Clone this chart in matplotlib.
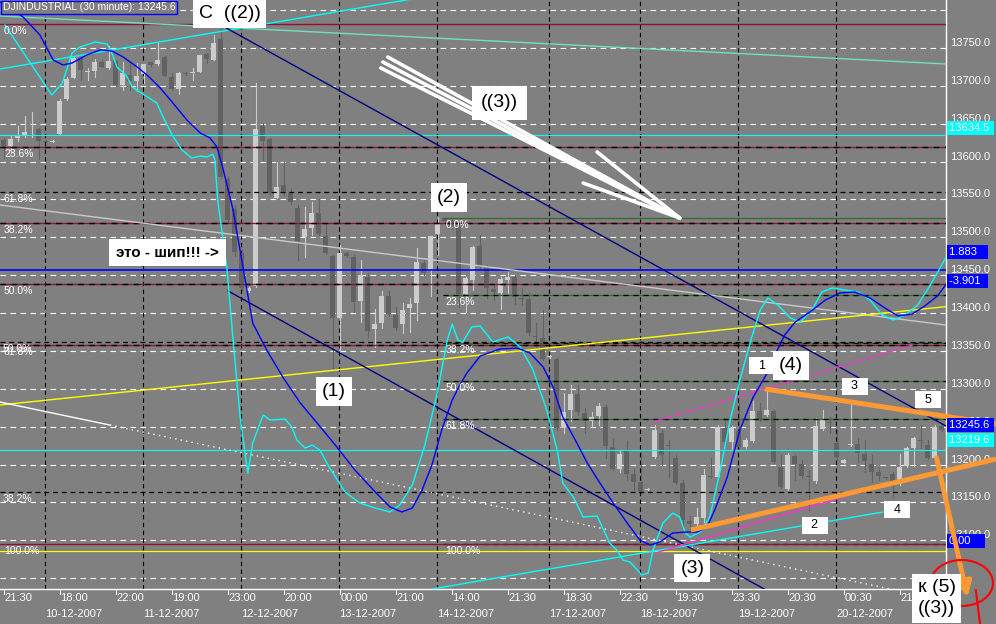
import matplotlib
matplotlib.use("Agg")
import matplotlib.pyplot as plt
from matplotlib.patches import Ellipse

plt.rcParams['font.family'] = ['Liberation Sans', 'DejaVu Sans']

# DJINDUSTRIAL 30 minute bars, 10-12-2007 .. 20-12-2007
opens = [13628.5, 13620.6, 13631.2, 13635.1, 13642.4, 13643.0, 13627.2, 13626.5, 13636.4, 13682.7,
         13710.4, 13736.8, 13718.3, 13719.6, 13731.5, 13723.6, 13732.8, 13701.1, 13714.3, 13706.4,
         13715.7, 13731.5, 13728.9, 13738.1, 13711.7, 13695.9, 13717.0, 13717.0, 13718.3, 13742.1,
         13734.2, 13761.9, 13577.0, 13537.4, 13479.3, 13429.1, 13435.7, 13647.0, 13629.8, 13551.9,
         13569.1, 13558.5, 13538.7, 13500.4, 13512.3, 13532.1, 13501.7, 13475.3, 13393.5, 13479.3,
         13474.0, 13415.9, 13447.6, 13378.9, 13386.9, 13422.5, 13397.4, 13385.5, 13406.7, 13413.3,
         13466.1, 13455.5, 13504.4, 13525.5, 13521.5, 13513.6, 13425.1, 13443.6, 13488.5, 13459.5,
         13431.7, 13426.5, 13443.6, 13447.6, 13419.9, 13418.5, 13369.7, 13367.0, 13342.0, 13339.3,
         13248.2, 13271.9, 13293.1, 13268.0, 13257.4, 13264.0, 13275.9, 13223.1, 13194.0, 13217.8,
         13187.4, 13176.9, 13166.9, 13209.8, 13241.6, 13225.7, 13208.5, 13175.5, 13125.4, 13121.4,
         13129.3, 13184.8, 13183.5, 13248.2, 13229.7, 13244.2, 13223.1, 13231.0, 13270.6, 13265.4,
         13270.6, 13196.6, 13167.6, 13211.1, 13200.6, 13184.8, 13178.2, 13246.9, 13255.4, 13228.4,
         13202.6, 13225.7, 13227.0, 13213.8, 13200.6, 13190.1, 13183.0, 13187.4, 13174.2, 13198.0,
         13221.7, 13232.3, 13225.7, 13208.5, 13250.8]
highs = [13631.2, 13635.1, 13647.0, 13660.2, 13665.5, 13644.4, 13628.5, 13628.5, 13682.7, 13711.7,
         13738.1, 13738.1, 13723.6, 13735.5, 13734.2, 13752.7, 13734.2, 13731.5, 13730.2, 13730.2,
         13728.9, 13731.5, 13756.6, 13739.4, 13717.0, 13718.3, 13718.3, 13723.6, 13740.8, 13743.4,
         13767.2, 13775.1, 13579.7, 13542.7, 13483.2, 13434.4, 13703.8, 13651.0, 13631.2, 13599.5,
         13599.5, 13563.8, 13542.7, 13540.0, 13546.6, 13550.6, 13518.9, 13476.6, 13489.9, 13480.6,
         13476.6, 13470.0, 13452.9, 13405.3, 13429.1, 13429.1, 13408.0, 13413.3, 13419.9, 13485.9,
         13470.0, 13501.7, 13526.8, 13525.5, 13524.2, 13520.2, 13447.6, 13488.5, 13503.1, 13463.4,
         13437.0, 13447.6, 13454.2, 13450.2, 13433.1, 13426.5, 13386.9, 13404.0, 13344.6, 13340.6,
         13294.4, 13305.0, 13305.0, 13274.6, 13269.3, 13281.2, 13278.6, 13233.7, 13219.1, 13231.0,
         13194.0, 13216.5, 13168.9, 13252.1, 13245.6, 13232.3, 13212.5, 13179.5, 13132.0, 13142.6,
         13194.0, 13208.5, 13252.1, 13261.4, 13250.8, 13281.2, 13235.0, 13283.8, 13281.2, 13299.7,
         13271.9, 13212.5, 13215.1, 13212.5, 13205.9, 13192.7, 13261.4, 13271.9, 13262.7, 13245.6,
         13207.2, 13282.5, 13235.0, 13232.3, 13212.5, 13195.3, 13183.5, 13190.1, 13213.8, 13223.1,
         13236.3, 13252.1, 13232.3, 13252.1, 13253.5]
lows = [13604.7, 13611.3, 13627.2, 13632.5, 13632.5, 13603.4, 13625.9, 13625.9, 13635.1, 13681.3,
        13710.4, 13707.8, 13707.8, 13711.7, 13724.9, 13722.3, 13699.8, 13694.5, 13694.5, 13693.2,
        13703.8, 13726.2, 13727.6, 13713.0, 13694.5, 13689.3, 13714.3, 13707.8, 13718.3, 13730.2,
        13734.2, 13578.3, 13520.2, 13475.3, 13430.4, 13427.8, 13434.4, 13602.1, 13555.9, 13551.9,
        13555.9, 13544.0, 13470.0, 13474.0, 13503.1, 13503.1, 13478.0, 13324.8, 13347.2, 13474.0,
        13401.4, 13388.1, 13368.4, 13355.2, 13380.2, 13396.1, 13377.6, 13373.6, 13374.9, 13390.8,
        13450.2, 13422.5, 13476.6, 13520.2, 13512.3, 13408.0, 13401.4, 13430.4, 13459.5, 13419.9,
        13417.2, 13405.3, 13426.5, 13411.9, 13410.6, 13371.0, 13352.5, 13338.0, 13340.6, 13245.6,
        13241.6, 13257.4, 13265.4, 13241.6, 13249.5, 13252.1, 13208.5, 13192.7, 13190.1, 13179.5,
        13166.3, 13162.3, 13166.3, 13208.5, 13199.3, 13183.5, 13174.2, 13117.5, 13114.8, 13116.1,
        13124.1, 13182.1, 13182.1, 13227.0, 13219.1, 13220.4, 13221.7, 13229.7, 13257.4, 13264.0,
        13201.9, 13168.9, 13166.3, 13179.5, 13182.1, 13139.9, 13175.5, 13245.6, 13241.6, 13205.9,
        13201.9, 13224.4, 13203.2, 13190.1, 13176.9, 13179.5, 13180.8, 13157.1, 13172.9, 13196.6,
        13198.0, 13221.7, 13207.2, 13207.2, 13244.2]
closes = [13620.6, 13629.8, 13634.5, 13639.1, 13643.7, 13627.2, 13626.5, 13627.2, 13680.0, 13709.1,
          13736.8, 13721.0, 13719.6, 13731.5, 13724.9, 13732.8, 13701.1, 13717.0, 13706.4, 13713.0,
          13728.9, 13727.6, 13734.2, 13713.0, 13695.9, 13717.0, 13715.7, 13718.3, 13740.8, 13735.5,
          13756.6, 13579.7, 13522.9, 13480.6, 13433.1, 13433.1, 13643.0, 13627.2, 13558.5, 13566.4,
          13558.5, 13546.6, 13495.1, 13511.0, 13532.1, 13504.4, 13479.3, 13393.5, 13479.3, 13475.3,
          13414.6, 13450.2, 13376.3, 13385.5, 13422.5, 13398.7, 13380.2, 13404.0, 13411.9, 13467.4,
          13452.9, 13501.7, 13518.9, 13521.5, 13514.9, 13425.1, 13446.3, 13487.2, 13460.8, 13433.1,
          13427.8, 13444.9, 13447.6, 13421.2, 13419.2, 13373.6, 13369.0, 13339.3, 13343.3, 13248.2,
          13269.3, 13293.1, 13269.3, 13257.4, 13262.7, 13277.2, 13224.4, 13194.0, 13213.8, 13187.4,
          13176.9, 13163.7, 13167.6, 13245.6, 13212.5, 13224.4, 13175.5, 13126.7, 13121.4, 13130.7,
          13186.1, 13184.1, 13249.5, 13229.7, 13248.2, 13223.1, 13232.3, 13270.6, 13258.7, 13271.9,
          13203.2, 13170.2, 13212.5, 13200.6, 13184.8, 13183.5, 13250.8, 13260.1, 13254.8, 13209.8,
          13206.5, 13227.0, 13215.1, 13204.6, 13190.1, 13184.8, 13182.5, 13175.5, 13196.6, 13221.7,
          13235.0, 13231.7, 13208.5, 13249.5, 13245.6]

# indicator lines drawn over the price (bar index, value)
cyan_x = [0.2, 6.9, 8.4, 9.8, 10.9, 13.1, 14.8, 15.6, 16.2, 17.6, 18.4, 19.9, 21.9, 22.8, 24.1, 25.5,
          26.9, 28.1, 29.1, 29.9, 30.2, 30.6, 31.9, 32.8, 33.8, 34.9, 35.6, 37.1, 38.1, 40.2, 41.2,
          41.9, 43.1, 44.1, 45.2, 46.6, 48.8, 50.9, 53.1, 55.2, 56.6, 58.4, 60.2, 61.9, 63.4, 64.1,
          64.9, 65.6, 66.9, 68.1, 69.9, 72.1, 73.8, 75.6, 77.6, 79.1, 79.9, 81.4, 82.8, 84.8, 85.6,
          86.6, 87.6, 88.5, 89.5, 91.2, 92.1, 92.8, 94.2, 95.6, 96.6, 97.4, 98.1, 99.5, 100.9, 102.4,
          103.8, 105.2, 106.9, 108.1, 109.2, 110.6, 112.4, 113.8, 115.5, 116.9, 118.4, 120.2, 122.1,
          123.8, 125.5, 127.1, 128.8, 130.6, 132.4, 134.6]
cyan_y = [13780.4, 13688.0, 13703.8, 13743.4, 13751.3, 13757.9, 13755.3, 13740.8, 13724.9, 13713.0,
          13698.5, 13689.3, 13677.4, 13658.9, 13635.1, 13615.3, 13604.7, 13607.4, 13606.1, 13610.0,
          13602.1, 13549.3, 13460.8, 13364.4, 13262.7, 13188.8, 13228.4, 13265.4, 13258.7, 13260.1,
          13249.5, 13232.3, 13221.7, 13225.7, 13219.1, 13195.3, 13163.7, 13149.1, 13142.5, 13137.3,
          13146.5, 13172.9, 13225.7, 13291.8, 13364.4, 13385.5, 13364.4, 13361.8, 13381.6, 13382.9,
          13361.8, 13368.4, 13355.2, 13326.1, 13271.9, 13219.1, 13175.5, 13157.1, 13130.7, 13132.0,
          13116.1, 13096.3, 13087.1, 13073.9, 13071.2, 13054.1, 13056.7, 13087.1, 13122.7, 13135.9,
          13130.7, 13109.5, 13104.2, 13110.8, 13130.7, 13192.7, 13258.7, 13311.6, 13368.4, 13404.0,
          13419.9, 13410.6, 13393.5, 13388.2, 13404.0, 13427.8, 13433.1, 13430.4, 13427.8, 13417.2,
          13397.4, 13390.8, 13397.4, 13410.6, 13437.0, 13472.7]
blue_x = [-0.5, 2.8, 5.2, 7.1, 8.5, 9.8, 11.9, 13.8, 15.5, 17.1, 19.1, 20.5, 22.4, 24.2, 26.2, 28.1,
          29.5, 30.5, 31.4, 32.8, 34.2, 35.6, 37.6, 39.9, 42.4, 44.8, 47.4, 50.2, 53.1, 55.2, 56.9,
          58.4, 59.8, 61.2, 62.6, 64.1, 65.2, 66.2, 68.1, 70.9, 73.4, 75.2, 77.1, 78.5, 79.9, 81.9,
          83.4, 85.2, 87.1, 89.1, 90.9, 92.4, 93.8, 95.6, 97.6, 99.1, 100.5, 101.6, 103.4, 105.2,
          107.1, 109.1, 110.2, 111.6, 113.1, 115.2, 117.4, 119.5, 121.6, 123.8, 125.9, 127.8, 129.8,
          131.6, 133.4, 134.6]
blue_y = [13810.8, 13791.0, 13767.2, 13734.2, 13727.6, 13730.2, 13740.8, 13747.4, 13746.0, 13738.1,
          13724.9, 13714.4, 13697.2, 13677.4, 13654.9, 13637.8, 13631.2, 13619.3, 13588.9, 13536.1,
          13460.8, 13386.8, 13351.2, 13315.5, 13281.2, 13254.8, 13225.7, 13192.7, 13163.7, 13143.9,
          13137.3, 13142.5, 13166.3, 13199.3, 13245.6, 13285.2, 13305.0, 13320.8, 13343.3, 13352.5,
          13353.8, 13347.2, 13328.7, 13302.3, 13262.7, 13228.4, 13202.0, 13175.5, 13149.1, 13122.7,
          13100.3, 13093.7, 13097.6, 13109.5, 13110.8, 13110.8, 13117.4, 13139.9, 13183.5, 13245.6,
          13289.1, 13320.8, 13344.6, 13371.0, 13388.2, 13401.4, 13417.2, 13426.5, 13427.8, 13419.9,
          13406.7, 13396.1, 13398.7, 13409.3, 13422.5, 13437.0]

time_labels = ['21:30', '18:00', '22:00', '19:00', '23:00', '20:00', '00:00', '21:00', '14:00',
               '21:30', '18:30', '22:30', '19:30', '23:30', '20:30', '00:30', '21:00']
day_pos = [6, 20, 34, 48, 62, 78, 91, 105, 119]
day_labels = ['10-12-2007', '11-12-2007', '12-12-2007', '13-12-2007', '14-12-2007',
              '17-12-2007', '18-12-2007', '19-12-2007', '20-12-2007']
price_ticks = [13050, 13100, 13150, 13200, 13250, 13300, 13350, 13400, 13450, 13500,
               13550, 13600, 13650, 13700, 13750, 13800]

# fibonacci levels
fib1 = [13781.7, 13619.6, 13519.4, 13438.4, 13357.3, 13095.0]
fib1_txt = ['0.0%', '23.6%', '38.2%', '50.0%', '61.8%', '100.0%']
fib2 = [13525.5, 13423.9, 13361.0, 13310.3, 13259.5, 13095.0]
fib2_txt = ['0.0%', '23.6%', '38.2%', '50.0%', '61.8%', '100.0%']
fib3 = [13559.8, 13361.8, 13163.7]
fib3_txt = ['61.8%', '50.0%', '38.2%']

# trend lines: x0, y0, x1, y1
navy_top = [31.9, 13776.0, 134.64, 13250.8]
navy_low = [32.1, 13429.1, 112.0, 13018.4]
cyan_trend = [-0.5, 13722.3, 70.0, 13833.0]
aqua_trend = [-0.5, 13792.3, 134.64, 13728.9]
silver_trend = [-0.5, 13542.7, 134.64, 13384.2]
yellow_trend = [-0.5, 13278.6, 134.64, 13408.5]
white_solid = [-0.5, 13282.5, 15.2, 13252.1]
white_dots = [15.2, 13252.1, 128.1, 13032.9]
cyan_low = [61.2, 13035.6, 125.6, 13137.2]
magenta_up = [92.8, 13256.1, 129.9, 13357.8]
magenta_low = [93.1, 13083.1, 126.6, 13175.6]
orange_low = [98.2, 13113.5, 141.8, 13207.2]
orange_up = [108.8, 13299.7, 141.8, 13253.5]
orange_arrow = [133.2, 13212.5, 137.8, 13021.0]

bg = '#808080'
fig = plt.figure(figsize=(9.96, 6.24), dpi=100, facecolor=bg)
ax = fig.add_axes([0, 35 / 624, 946 / 996, 589 / 624])
ax.set_facecolor(bg)
ax.set_xlim(-0.5, 134.64)
ax.set_ylim(13035.6, 13813.4)
for s in ['left', 'top']:
    ax.spines[s].set_visible(False)
for s in ['right', 'bottom']:
    ax.spines[s].set_color('white')
    ax.spines[s].set_linewidth(1)
ax.set_xticks([])
ax.set_yticks([])

# grid
for p in price_ticks:
    ax.axhline(p, color='white', lw=0.8, ls=(0, (5, 4)), zorder=1)
for d in day_pos:
    ax.axvline(d - 0.07, color='black', lw=0.8, ls=(0, (4, 3)), zorder=1)

# candles
n = len(opens)
for i in range(n):
    o, h, l, c = opens[i], highs[i], lows[i], closes[i]
    col = '#cccccc' if c >= o else '#626262'
    ax.plot([i, i], [l, h], color=col, lw=0.8, zorder=2)
    lo, hi = min(o, c), max(o, c)
    if hi - lo < 1.3:
        hi = lo + 1.3
    ax.bar(i, hi - lo, bottom=lo, width=0.72, color=col, zorder=2, linewidth=0)

# horizontal levels
ax.axhline(13634.5, color='#00ffff', lw=0.8, zorder=3)
ax.axhline(13219.6, color='#00ffff', lw=0.8, zorder=3)
ax.axhline(13456.8, color='#0000ff', lw=1.2, zorder=3)
ax.axhline(13085.7, color='#ffff00', lw=0.9, zorder=3)

for lv in fib2:
    ax.hlines(lv, 62.8, 134.64, color='#2e6b2e', lw=0.9, zorder=3)
    if lv != fib2[0]:
        ax.hlines(lv, 62.8, 134.64, color='black', lw=0.9, ls=(0, (4, 4)), zorder=3)
for k, lv in enumerate(fib1):
    ax.axhline(lv, color='#8c1432', lw=1.0, zorder=3)
    if 0 < k < len(fib1) - 1:
        ax.axhline(lv, color='black', lw=1.0, ls=(0, (4, 4)), zorder=3)
for lv in fib3:
    ax.axhline(lv, color='black', lw=0.9, ls=(0, (4, 3)), zorder=3)

# fib labels
for lv, t in zip(fib1, fib1_txt):
    ax.annotate(t, xy=(0, lv), xycoords=('axes fraction', 'data'), xytext=(4, -7),
                textcoords='offset pixels', color='white', fontsize=7.5, va='center', zorder=6)
for lv, t in zip(fib3, fib3_txt):
    ax.annotate(t, xy=(0, lv), xycoords=('axes fraction', 'data'), xytext=(3, -7),
                textcoords='offset pixels', color='white', fontsize=7.5, va='center', zorder=6)
for lv, t in zip(fib2, fib2_txt):
    ax.annotate(t, xy=(63.1, lv), xycoords='data', xytext=(0, -7),
                textcoords='offset pixels', color='white', fontsize=7.5, va='center', zorder=6)


def seg(line, **kw):
    ax.plot([line[0], line[2]], [line[1], line[3]], **kw)


seg(aqua_trend, color='#6fe0c0', lw=1.0, zorder=4)
seg(cyan_trend, color='#00ffff', lw=1.0, zorder=4)
seg(silver_trend, color='#c8c8c8', lw=1.0, zorder=4)
seg(yellow_trend, color='#ffff00', lw=1.0, zorder=4)
seg(white_solid, color='white', lw=1.0, zorder=4)
seg(white_dots, color='white', lw=1.0, ls=(0, (1, 3)), zorder=4)
seg(navy_top, color='#000080', lw=1.0, zorder=4)
seg(navy_low, color='#000080', lw=1.0, zorder=4)
seg(cyan_low, color='#00ffff', lw=1.0, zorder=4)
seg(magenta_up, color='#ff33cc', lw=1.0, ls=(0, (6, 2)), zorder=4)
seg(magenta_low, color='#ff33cc', lw=1.0, zorder=4)

# indicators
ax.plot(cyan_x, cyan_y, color='#00ffff', lw=1.0, zorder=5)
ax.plot(blue_x, blue_y, color='#0000ff', lw=1.0, zorder=5)

# orange wave lines and arrow
seg(orange_low, color='#ff9933', lw=3.6, zorder=7, clip_on=False, solid_capstyle='butt')
seg(orange_up, color='#ff9933', lw=3.6, zorder=7, clip_on=False, solid_capstyle='butt')
ax.annotate('', xy=(orange_arrow[2], orange_arrow[3]), xytext=(orange_arrow[0], orange_arrow[1]),
            arrowprops=dict(arrowstyle='-|>', color='#ff9933', lw=3.5, mutation_scale=22),
            annotation_clip=False, zorder=9)

# white hand-drawn arrow
arrow_tip = (96.6, 13525.5)
for sx, sy in [(54.2, 13731.5), (54.9, 13738.1), (53.9, 13723.6), (84.8, 13612.7), (82.8, 13571.7)]:
    ax.plot([sx, arrow_tip[0]], [sy, arrow_tip[1]], color='white', lw=2.6,
            solid_capstyle='round', zorder=6)

# red circle at the target
ax.add_patch(Ellipse((136.9, 13043.5), 8.9, 60.7, fill=False, ec='#ff0000', lw=1.5,
                     clip_on=False, zorder=9))
ax.plot([138.9, 139.5], [13034.2, 12989.4], color='#ff0000', lw=1.5, clip_on=False, zorder=9)

# wave labels
box = dict(boxstyle='square,pad=0.3', fc='white', ec='none')
ax.text(32.3, 13795.0, 'C  ((2))', fontsize=14, ha='center', va='center', bbox=box, zorder=8)
ax.text(70.9, 13677.4, '((3))', fontsize=14, ha='center', va='center',
        bbox=dict(boxstyle='square,pad=0.45', fc='white', ec='none'), zorder=8)
ax.text(63.6, 13552.6, '(2)', fontsize=14, ha='center', va='center', bbox=box, zorder=8)
ax.text(47.2, 13296.4, '(1)', fontsize=14, ha='center', va='center', bbox=box, zorder=8)
ax.text(98.4, 13063.3, '(3)', fontsize=14, ha='center', va='center', bbox=box, zorder=8)
ax.text(112.5, 13330.7, '(4)', fontsize=14, ha='center', va='center', bbox=box, zorder=8)
sbox = dict(boxstyle='square,pad=0.2', fc='white', ec='none')
for xi, yi, t in [(108.4, 13330.1, '1'), (121.6, 13303.6, '3'), (132.1, 13285.8, '5'),
                  (115.9, 13120.1, '2'), (127.7, 13140.5, '4')]:
    ax.text(xi, yi, '  ' + t + '  ', fontsize=9, ha='center', va='center', bbox=sbox, zorder=8)
ax.text(23.4, 13479.9, 'это - шип!!! ->', fontsize=11, fontweight='bold', ha='center',
        va='center', bbox=dict(boxstyle='square,pad=0.45', fc='white', ec='none'), zorder=8)
ax.text(133.3, 13023.6, 'к (5)\n((3))', fontsize=14, ha='center', va='center', bbox=box,
        zorder=10, clip_on=False, linespacing=1.25)

ax.text(0.003, 0.988, 'DJINDUSTRIAL (30 minute): 13245.6', transform=ax.transAxes, color='white',
        fontsize=7.5, va='center', ha='left', zorder=8,
        bbox=dict(boxstyle='square,pad=0.15', fc=bg, ec='#0000ff', lw=1))

# right price scale
for p in price_ticks[1:-1]:
    ax.annotate(f'{p:.1f}', xy=(1, p), xycoords=('axes fraction', 'data'), xytext=(4, 5),
                textcoords='offset pixels', color='white', fontsize=8, va='center',
                annotation_clip=False)
for val, t, fc in [(13644.4, '13634.5', '#00ffff'), (13480.6, '1.883', '#0000ff'),
                   (13442.3, '-3.901', '#0000ff'), (13252.1, '13245.6', '#0000ff'),
                   (13232.3, '13219.6', '#00ffff'), (13099.0, '0.00', '#0000ff')]:
    ax.annotate(t.ljust(8), xy=(1, val), xycoords=('axes fraction', 'data'), xytext=(3, 0),
                textcoords='offset pixels', color='white', fontsize=8, va='center',
                annotation_clip=False, zorder=8,
                bbox=dict(boxstyle='square,pad=0.15', fc=fc, ec='none'))

# time scale
xt = ax.get_xaxis_transform()
for k, t in enumerate(time_labels):
    i = k * 8
    ax.plot([i, i], [0, -0.008], color='white', lw=0.8, transform=xt, clip_on=False)
    ax.text(i + 0.1, -0.016, t, color='white', fontsize=8, ha='left', va='center',
            transform=xt, clip_on=False)
for d, t in zip(day_pos, day_labels):
    ax.text(d, -0.042, t, color='white', fontsize=8, ha='left', va='center',
            transform=xt, clip_on=False)

fig.savefig('out.png', dpi=100, facecolor=bg)
